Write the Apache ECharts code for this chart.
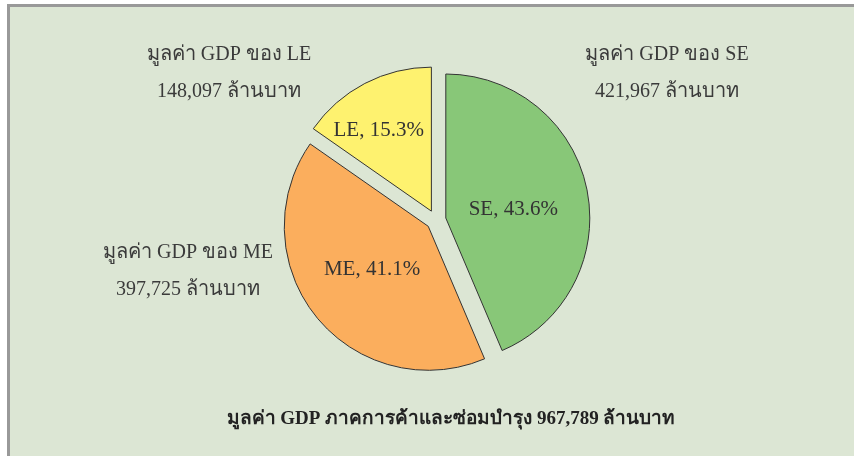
<!DOCTYPE html>
<html>
<head>
<meta charset="utf-8">
<script src="https://cdn.jsdelivr.net/npm/echarts@6/dist/echarts.min.js"></script>
<style>
  html, body { margin: 0; padding: 0; background: #fff; }
  #frame { position: absolute; left: 7px; top: 4px; width: 847px; height: 452px;
           border-top: 3px solid #999; border-left: 3px solid #999; background: #dce6d4; box-sizing: border-box; }
  #main { position: absolute; left: 0; top: 0; width: 854px; height: 456px; }
</style>
</head>
<body>
<div id="frame"></div>
<div id="main"></div>
<script>
// ข้อมูล GDP ภาคการค้าและซ่อมบำรุง (ล้านบาท)
var names = ['SE', 'ME', 'LE'];
var values = [421967, 397725, 148097];
var sliceColors = ['#88c778', '#fbae5d', '#fef26f'];

(function () {
  var dom = document.getElementById('main');
  var myChart = echarts.init(dom, null, { renderer: 'canvas' });
  var font = '"Liberation Serif", "Noto Sans", serif';

  var total = 0;
  for (var i = 0; i < values.length; i++) total += values[i];
  function fmt(v) { return v.toLocaleString('en-US'); }

  // ตำแหน่งข้อความด้านนอก และการเลื่อนป้ายด้านใน
  var outerPos = [[667, 73], [188, 271], [229, 73]];
  var innerShift = [[-6, 6], [2, -4], [-18, -14]];

  var data = [];
  var texts = [];
  for (var j = 0; j < names.length; j++) {
    data.push({ name: names[j], value: values[j], selected: true, itemStyle: { color: sliceColors[j] } });
    texts.push({
      type: 'text',
      x: outerPos[j][0],
      y: outerPos[j][1],
      silent: true,
      style: {
        text: 'มูลค่า GDP ของ ' + names[j] + '\n' + fmt(values[j]) + ' ล้านบาท',
        font: '20px ' + font,
        fill: '#3a3a3a',
        align: 'center',
        verticalAlign: 'middle',
        lineHeight: 37
      }
    });
  }
  texts.push({
    type: 'text',
    x: 451,
    y: 419,
    silent: true,
    style: {
      text: 'มูลค่า GDP ภาคการค้าและซ่อมบำรุง ' + fmt(total) + ' ล้านบาท',
      font: 'bold 19px ' + font,
      fill: '#222',
      align: 'center',
      verticalAlign: 'middle'
    }
  });

  var option = {
    backgroundColor: 'transparent',
    animation: false,
    graphic: texts,
    series: [
      {
        type: 'pie',
        center: [436, 220],
        radius: 144,
        startAngle: 90,
        clockwise: true,
        selectedMode: 'multiple',
        selectedOffset: 10,
        percentPrecision: 1,
        silent: true,
        itemStyle: { borderColor: '#333', borderWidth: 1 },
        label: {
          show: true,
          position: 'inside',
          formatter: '{b}, {d}%',
          fontFamily: font,
          fontSize: 21,
          color: '#333'
        },
        labelLine: { show: false },
        labelLayout: function (params) {
          var s = innerShift[params.dataIndex];
          return { dx: s[0], dy: s[1] };
        },
        data: data
      }
    ]
  };
  myChart.setOption(option, true);
})();
</script>
</body>
</html>
